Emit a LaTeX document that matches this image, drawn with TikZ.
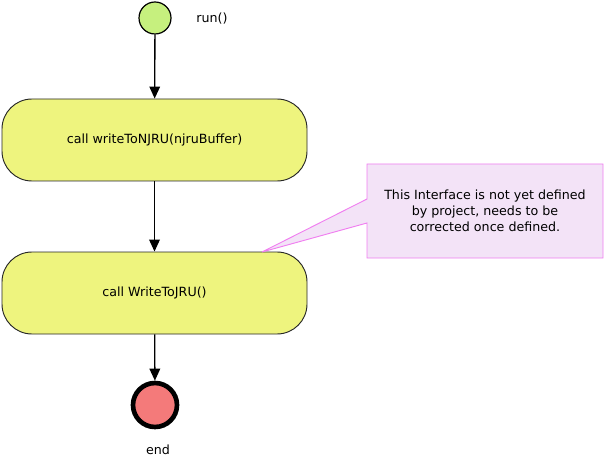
\documentclass[tikz,border=0pt]{standalone}
\usepackage{fontspec}
\setmainfont{DejaVu Sans}
\usetikzlibrary{arrows.meta}
\definecolor{startgreen}{HTML}{C6F07E}
\definecolor{boxyellow}{HTML}{EEF47E}
\definecolor{endred}{HTML}{F47A7A}
\definecolor{notefill}{HTML}{F3E3F7}
\definecolor{noteline}{HTML}{F07EF0}
\tikzset{
  px/.style={x=0.75pt,y=-0.75pt},
  actbox/.style={draw=black!85,line width=0.7pt,fill=boxyellow,rounded corners=22.5pt,minimum width=228.75pt,minimum height=61.5pt,font=\fontsize{9.5}{11}\selectfont,inner sep=0pt},
  flow/.style={draw=black,line width=1pt,-{Triangle[length=9pt,width=8pt]}},
  lbl/.style={font=\fontsize{9.5}{11}\selectfont,inner sep=0pt},
}
\begin{document}
\begin{tikzpicture}[px]
\useasboundingbox (0,0) rectangle (605,466);
\node[circle,draw=black,line width=0.9pt,fill=startgreen,minimum size=24pt,inner sep=0pt] (start) at (155,18) {};
\node[lbl] (runl) at (212,19) {run()};
\node[actbox] (b1) at (154.5,140) {call writeToNJRU(njruBuffer)};
\node[actbox] (b2) at (154.5,293) {call WriteToJRU()};
\node[circle,draw=black,line width=3.5pt,fill=endred,minimum size=33pt,inner sep=0pt] (stop) at (155,405) {};
\node[lbl] (endl) at (158,450) {end};
\draw[flow] (start) -- (b1);
\draw[flow] (b1) -- (b2);
\draw[flow] (b2) -- (stop);
% note
\coordinate (tip) at (262,252);
\draw[draw=noteline,fill=notefill,line width=0.7pt] (367,164) -- (603,164) -- (603,258) -- (367,258) -- (367,223) -- (tip) -- (367,199) -- cycle;
\node[lbl,align=center,font=\fontsize{9.5}{12}\selectfont] (note) at (485,211) {This Interface is not yet defined\\by project, needs to be\\corrected once defined.};
\end{tikzpicture}
\end{document}
